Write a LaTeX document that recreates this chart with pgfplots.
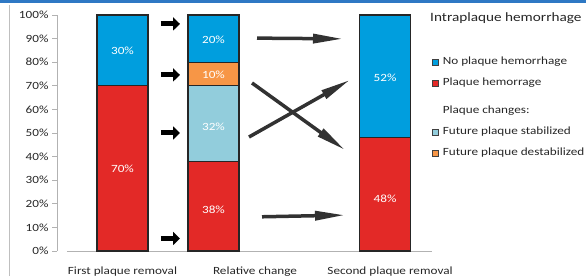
\documentclass[border=0pt]{standalone}
\usepackage{fontspec}
\setmainfont{Carlito}[FakeStretch=1.2]
\usepackage{pgfplots}
\pgfplotsset{compat=1.18}
\usetikzlibrary{arrows.meta}
\definecolor{cblue}{RGB}{0,158,222}
\definecolor{cred}{RGB}{227,41,39}
\definecolor{clblue}{RGB}{146,205,220}
\definecolor{corange}{RGB}{247,150,70}
\definecolor{arrowgray}{RGB}{50,50,50}
\definecolor{band}{RGB}{46,120,196}
\begin{document}
\begin{tikzpicture}[x=1pt,y=1pt]
\useasboundingbox (0,0) rectangle (586,276);
\fill[band] (0,273) rectangle (586,276);
\draw[gray!50, line width=1pt] (9.5,0) -- (9.5,271);
\begin{axis}[
  at={(57pt,25pt)}, anchor=south west,
  scale only axis, width=375pt, height=236pt,
  xmin=-0.7198, xmax=3.401, ymin=0, ymax=100,
  clip=false,
  ybar stacked, bar width=51pt,
  axis x line*=bottom, axis y line*=left,
  x axis line style={draw=none},
  y axis line style={gray!60, line width=0.8pt},
  xtick={0,1.456,2.94},
  xticklabels={First plaque removal, Relative change, Second plaque removal},
  xtick style={draw=none},
  xticklabel style={font=\fontsize{11}{13}\selectfont, text=black!85, anchor=base, yshift=-18pt},
  ytick={0,10,...,100},
  yticklabel={\pgfmathprintnumber{\tick}\%},
  /pgf/number format/assume math mode=true,
  ytick style={gray!60, line width=0.8pt},
  tick align=outside, major tick length=5pt,
  yticklabel style={font=\fontsize{11}{13}\selectfont, text=black!85},
  legend style={at={(1.0,0.83)}, anchor=north west, draw=none, fill=none,
    font=\fontsize{11}{13}\selectfont, text=black!85, row sep=8pt, inner sep=0pt,
    nodes={inner sep=1pt, text height=8pt, text depth=3pt},
    /tikz/every odd column/.style={column sep=3pt}},
  legend cell align=left,
  legend image code/.code={\draw[#1,draw=black!75,line width=0.6pt] (0pt,-3pt) rectangle (6pt,3pt);},
]
\addplot[fill=cred, draw=black!85, line width=1.1pt, forget plot] coordinates {(0,70) (1,38) (2.885,48)};
\addplot[fill=clblue, draw=black!85, line width=1.1pt, forget plot] coordinates {(0,0) (1,32) (2.885,0)};
\addplot[fill=corange, draw=black!85, line width=1.1pt, forget plot] coordinates {(0,0) (1,10) (2.885,0)};
\addplot[fill=cblue, draw=black!85, line width=1.1pt, forget plot] coordinates {(0,30) (1,20) (2.885,52)};

\addlegendimage{fill=cblue}
\addlegendentry{No plaque hemorrhage}
\addlegendimage{fill=cred}
\addlegendentry{Plaque hemorrage}
\addlegendimage{empty legend}
\addlegendentry[text height=15pt]{Plaque changes:}
\addlegendimage{fill=clblue}
\addlegendentry{Future plaque stabilized}
\addlegendimage{fill=corange}
\addlegendentry{Future plaque destabilized}

\draw[gray!60, line width=0.8pt] (axis cs:-0.61,0) -- (axis cs:3.401,0);

\coordinate (l1) at (axis cs:0,85);
\coordinate (l2) at (axis cs:0,35);
\coordinate (l3) at (axis cs:1,89.5);
\coordinate (l4) at (axis cs:1,74.5);
\coordinate (l5) at (axis cs:1,52.5);
\coordinate (l6) at (axis cs:1,17.5);
\coordinate (l7) at (axis cs:2.885,73.5);
\coordinate (l8) at (axis cs:2.885,22);

\draw[black, line width=5pt, -{Triangle[length=7pt,width=13pt]}] (axis cs:0.423,96.2) -- (axis cs:0.632,96.2);
\draw[black, line width=5pt, -{Triangle[length=7pt,width=13pt]}] (axis cs:0.423,74.6) -- (axis cs:0.632,74.6);
\draw[black, line width=5pt, -{Triangle[length=7pt,width=13pt]}] (axis cs:0.423,50) -- (axis cs:0.632,50);
\draw[black, line width=5pt, -{Triangle[length=7pt,width=13pt]}] (axis cs:0.423,5.3) -- (axis cs:0.632,5.3);

\draw[arrowgray, line width=3.5pt, -{Triangle[length=30pt,width=9pt]}] (axis cs:1.478,90.2) -- (axis cs:2.423,89.9);
\draw[arrowgray, line width=3.5pt, -{Triangle[length=30pt,width=9pt]}] (axis cs:1.533,14.5) -- (axis cs:2.445,15.2);
\draw[arrowgray, line width=3.5pt, -{Triangle[length=30pt,width=9pt]}] (axis cs:1.423,71.2) -- (axis cs:2.445,42.8);
\draw[arrowgray, line width=3.5pt, -{Triangle[length=30pt,width=9pt]}] (axis cs:1.390,48.3) -- (axis cs:2.500,72.5);
\end{axis}
\begin{scope}[every node/.style={text=white, font=\fontsize{11}{13}\selectfont}]
\node at (l1) {30\%};
\node at (l2) {70\%};
\node at (l3) {20\%};
\node at (l4) {10\%};
\node at (l5) {32\%};
\node at (l6) {38\%};
\node at (l7) {52\%};
\node at (l8) {48\%};
\end{scope}
\node[anchor=west, font=\fontsize{12.7}{15}\selectfont, text=black!85, inner sep=0pt] at (430,258) {Intraplaque hemorrhage};
\end{tikzpicture}
\end{document}
